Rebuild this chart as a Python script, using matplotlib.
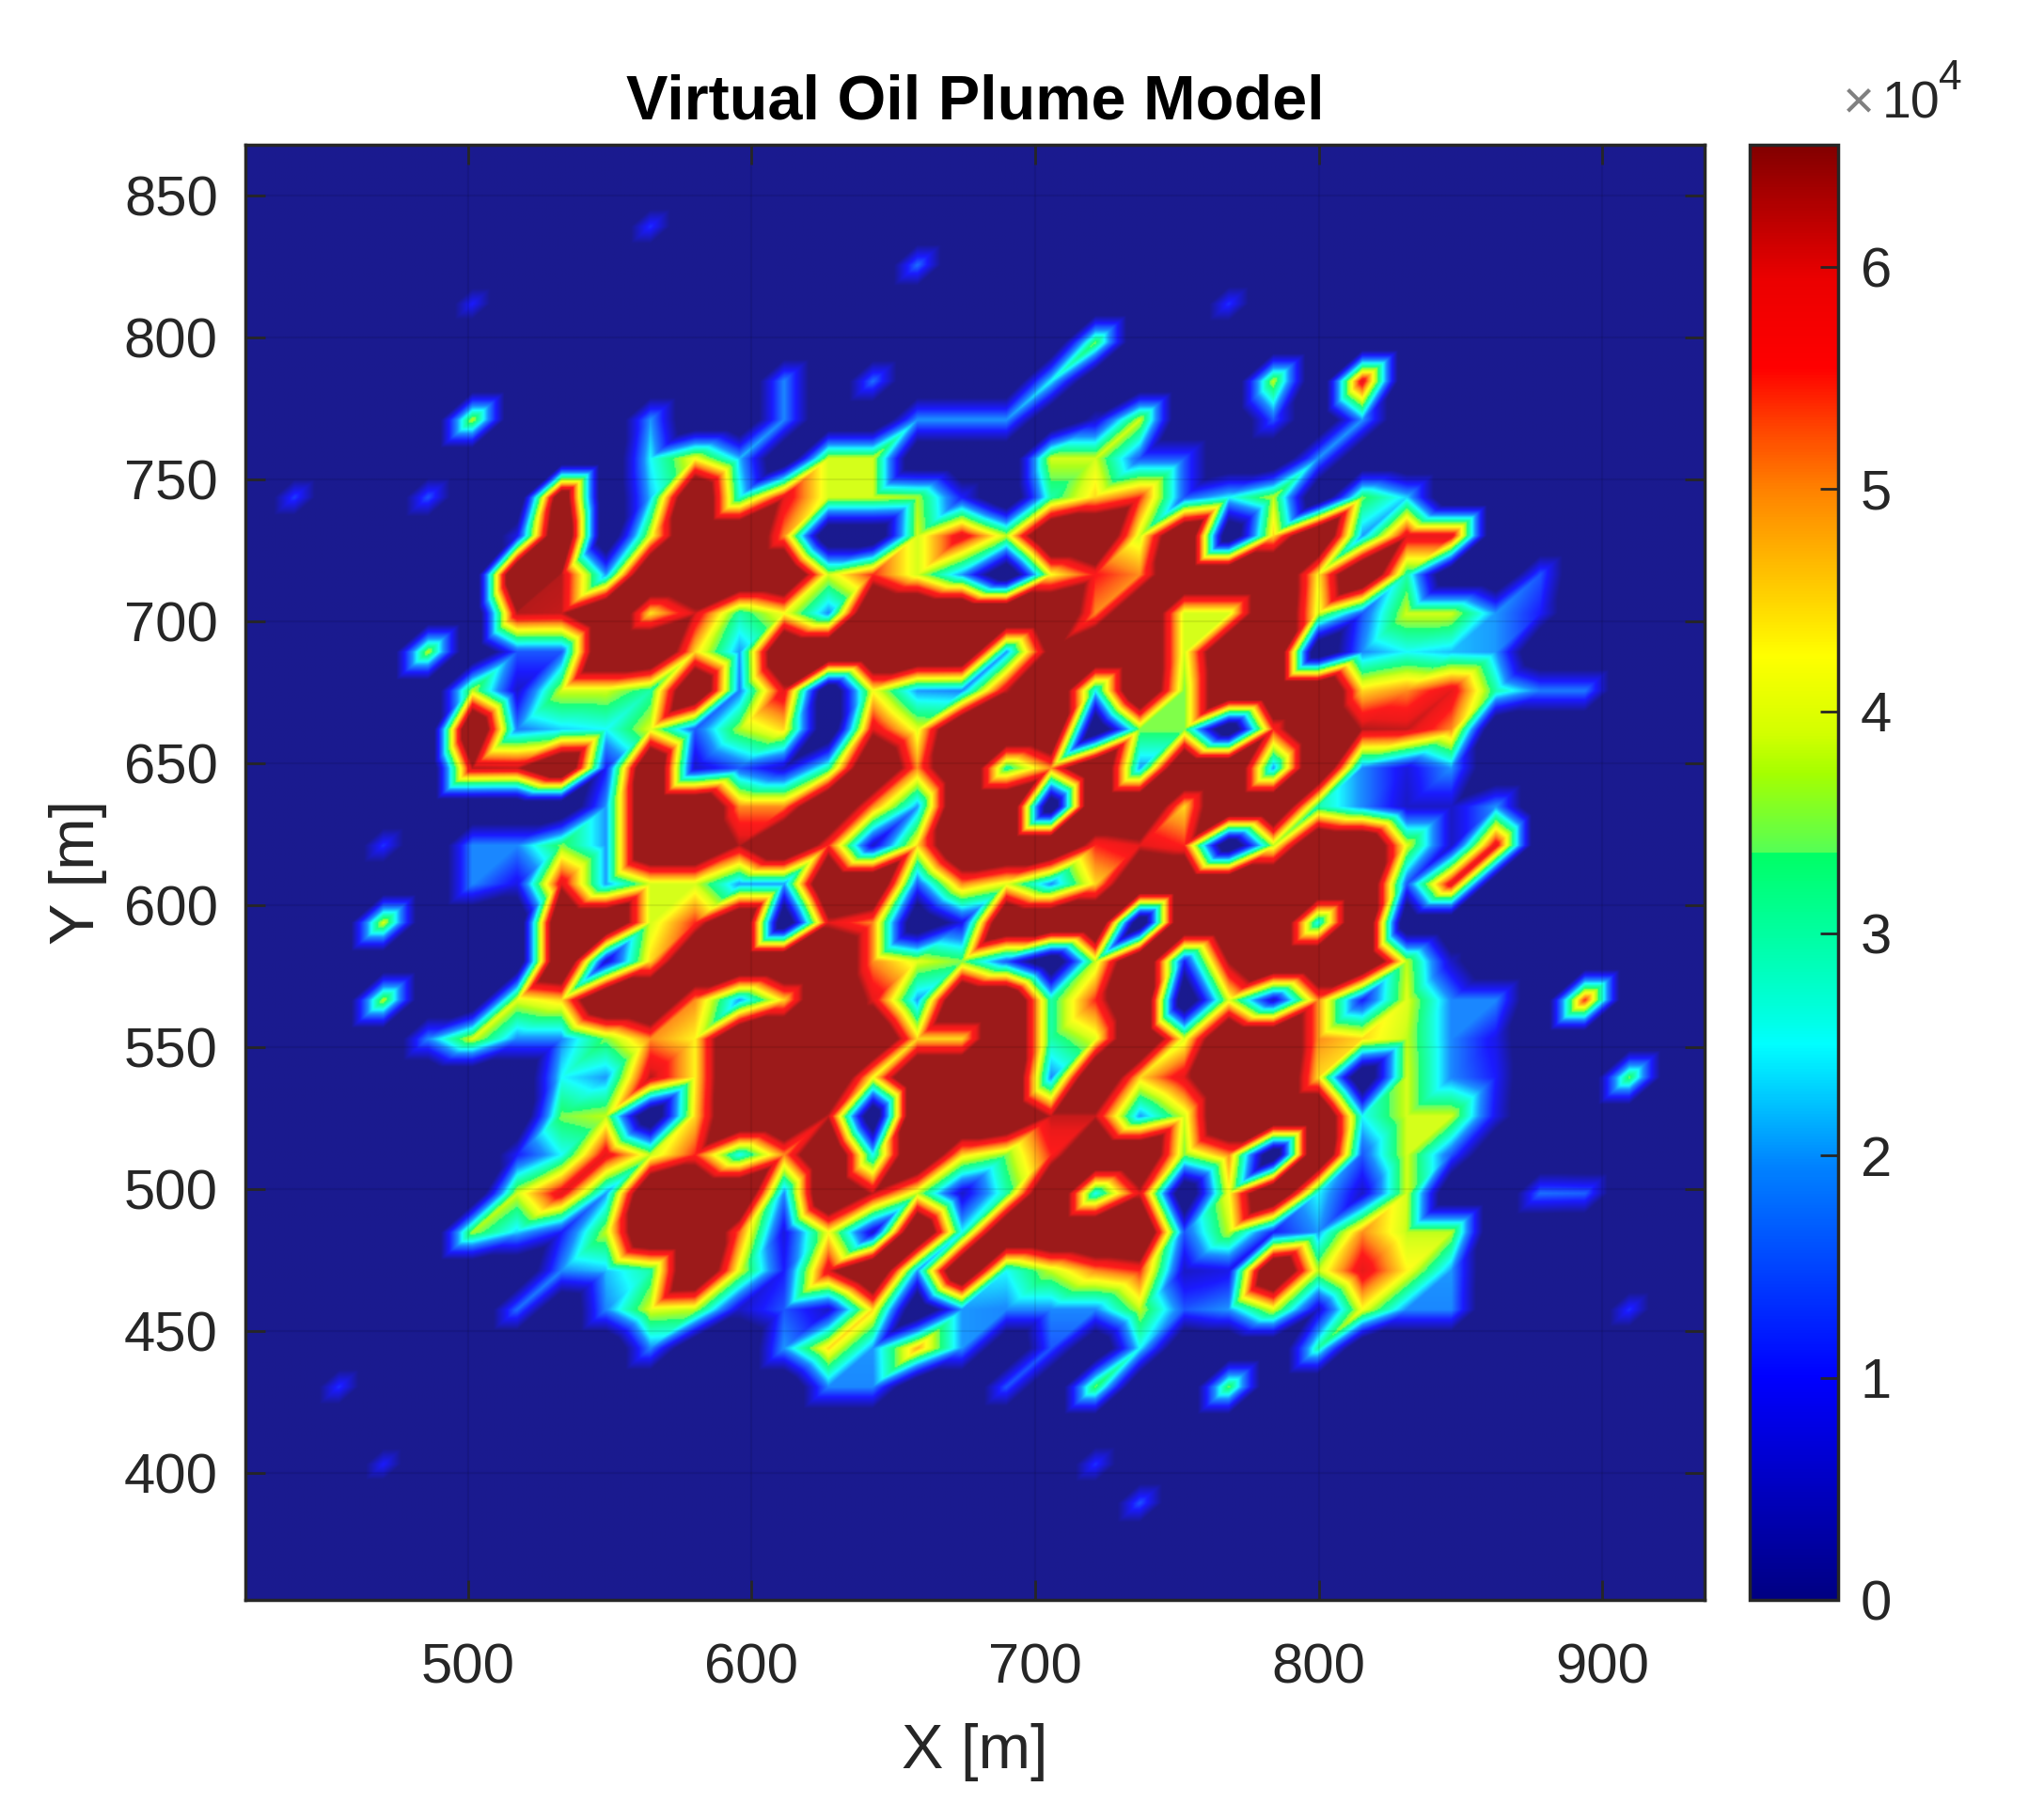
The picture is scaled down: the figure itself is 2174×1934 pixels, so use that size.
import numpy as np
import matplotlib
matplotlib.use("Agg")
import matplotlib.pyplot as plt
import matplotlib.tri as mtri
from matplotlib.colors import LinearSegmentedColormap, Normalize
from matplotlib.cm import ScalarMappable

plt.rcParams['font.family'] = ['Liberation Sans', 'DejaVu Sans']

# node values, in units of 1e4, H = saturated plateau
H = 9
z_rows = [
 [0,0,0,0, 0,0,0,0,1.2,0,0,0,0,0, 0,0,0,0,0,0,0,0,0,0, 0,0,0,0,0,0,0],
 [0,0,0,0, 0,0,0,0,0,0,0,0,0,0, 1.7,0,0,0,0,0,0,0,0,0, 0,0,0,0,0,0,0],
 [0,0,0,0, 1,0,0,0,0,0,0,0,0,0, 0,0,0,0,0,0,0,1.2,0,0, 0,0,0,0,0,0,0],
 [0,0,0,0, 0,0,0,0,0,0,0,0,0,0, 0,0,0,0,3.5,0,0,0,0,0, 0,0,0,0,0,0,0],
 [0,0,0,0, 0,0,0,0,0,0,0,1.9,0,1.7, 0,0,0,2.5,0,0,0,0,3.8,0, 6,0,0,0,0,0,0],
 [0,0,0,0, 3.8,0,0,0,2,0,0,1.9,0,0, 2,2,2,0,0.5,3.9,0,0,1.5,0, 2,0,0,0,0,0,0],
 [0,0,0,0, 0,0,0,0,2.5,4.2,2.2,0,3.9,3.9, 0,0,0,3.9,3.9,1.5,1.5,0,0,2, 0,0,0,0,0,0,0],
 [1.3,0,0,1.5, 0,0,8,0,2.2,H,2.7,6,3.9,3.9, 3.7,1,0,3,4.5,5.5,1.5,2.5,3.8,0, 3.5,2.3,0,0,0,0,0],
 [0,0,0,0, 0,0.8,H,0,4,H,H,5,0,0, 3.9,6,3.8,H,H,3.9,H,0,4.5,H, 2,6,6,0,0,0,0],
 [0,0,0,0, 0,H,6.3,2,H,H,H,H,3.9,5.5, 3.9,2,0,4.2,5.6,5,H,H,H,4.3, H,3,0,0,1.5,0,0],
 [0,0,0,0, 0,6.3,6.2,H,4.4,6.1,3,4.2,1.9,H, H,H,H,H,5,H,3.9,3.9,H,4, 1.5,3.9,3.9,2,1,0,0],
 [0,0,0,3.8, 0,1.5,1.5,H,H,4.5,2,H,H,H, H,H,2,7,H,H,3.9,H,H,0, 1.9,2.5,2.2,2,0,0,0],
 [0,0,0,0, 3.8,0.5,3.9,3.9,3,H,1.8,6,0,4.2, 2,1.9,6.2,H,2.5,H,3.5,H,H,H, 4.5,5,6,3,1.8,1.8,0],
 [0,0,0,0, H,1.8,2.3,2.5,4,1.5,3.7,4.5,0,6, 4,H,H,H,0,3.5,3.5,0,5.5,H, 6.3,6.2,5,0,0,0,0],
 [0,0,0,0, 6.3,6.2,H,1,H,0.5,1.5,0.5,3,H, 5,H,3,5,H,2,H,H,2,H, 1.9,0.7,2,0,0,0,0],
 [0,0,0,0, 0,0,0,2,H,H,5,5,H,5, 2,H,H,0,H,H,4.5,H,H,3, 1.9,0.5,0.5,2,0,0,0],
 [0,0,1.2,0, 1.9,1.9,3.5,2,H,H,6.3,H,5.5,0.5, 4.5,H,H,H,5.5,6,5.5,0,3.8,H, H,4,0.5,6,0,0,0],
 [0,0,0,0, 1.9,0.8,6,2,3.9,3.9,2,2,H,H, 1.5,5,4,1.9,4.5,H,H,H,H,H, H,1.5,6,0,0,0,0],
 [0,0,4,0, 0,0,H,H,3.9,5.5,H,0,6,5, 0,0.8,H,H,H,0,H,H,H,2.5, H,0,0,0,0,0,0],
 [0,0,0,0, 0,0,H,0.5,4.5,H,H,H,H,5, 4,3.5,1.5,0,3.8,H,1,6.5,H,H, H,3.8,0.5,0,0,0,0],
 [0,0,3.8,0, 0,4,4.5,H,H,5,2,4.5,H,6, 2,H,H,3,5.5,H,0,4,0.5,5, 1,4,1.9,1.9,0,5.5,0],
 [0,0,0,1.9, 4,1.9,1.9,3.5,5,4.3,H,H,H,H, 4.5,4.5,H,3,4,H,4,H,H,5, 4.5,3.8,1.9,0.8,0,0,0],
 [0,0,0,0, 0,0,2.5,2,6.3,4.3,H,H,H,4.2, H,H,H,1.9,H,4.5,6,H,H,4.5, 0,3.9,1.9,1,0,0,3.5],
 [0,0,0,0, 0,0,3.5,3.8,0,4.5,H,H,6.2,0, H,H,H,6.2,6.2,2,3.9,H,H,H, 2.5,3.9,3.9,0.8,0,0,0],
 [0,0,0,0, 0,1,2.5,6,3.8,5.5,2.5,5,H,2.5, H,4.5,3.5,5.5,H,H,3.5,5,0,H, 1.5,3.9,1.5,0,0,0,0],
 [0,0,0,0, 0,3.9,6,2,H,H,H,1.9,H,6.2, 3.8,0.5,3,H,2.5,6,0,4.2,H,2.5, 0.5,3.9,0,0,1.7,1.6,0],
 [0,0,0,0, 3.7,2.3,1,3.8,H,H,5.2,0.7,4.2,0.5, H,2.5,H,H,H,H,1.5,3.8,1,2, 5,3.8,3.8,0,0,0,0],
 [0,0,0,0, 0,0,1.9,2.2,3,H,4,1,6,H, 2,H,2.5,3.8,5,5.5,0.5,0.8,H,3.8, 6,4.3,2,0,0,0,0],
 [0,0,0,0, 0,1.7,0,1.9,4,3.8,0.5,1.5,0.5,4.5, 0,2,1.9,1.9,1.9,3.8,1.5,2,4,0.5, 4.2,1.9,1.9,0,0,0,1.2],
 [0,0,0,0, 0,0,0,0,1.9,0,0,2,4.5,2, 4.8,2,0,1.5,0,2.5,0,0,0,3, 0,0,0,0,0,0,0],
 [0,1.2,0,0, 0,0,0,0,0,0,0,0,1.9,1.9, 0,0,1.5,0,3.5,0,0,3.5,0,0, 0,0,0,0,0,0,0],
 [0,0,0,0, 0,0,0,0,0,0,0,0,0,0, 0,0,0,0,0,0,0,0,0,0, 0,0,0,0,0,0,0],
 [0,0,1,0, 0,0,0,0,0,0,0,0,0,0, 0,0,0,0,1.2,0,0,0,0,0, 0,0,0,0,0,0,0],
 [0,0,0,0, 0,0,0,0,0,0,0,0,0,0, 0,0,0,0,0,1.5,0,0,0,0, 0,0,0,0,0,0,0],
]

x_start, x_step = 501.5, 15.7
y_start, y_step = 716.6, -13.64
pad_cols = (2, 2)
pad_rows = (3, 3)

z_max = 6.55
plate = 6.45
background = -1.5  # nodes outside the plume sit below the colour limit, rims stay narrow

# colour stops: value, rgb
cbar_vals = [0, 1.0, 1.95, 2.5, 2.63, 3.0, 3.369, 3.371, 3.72, 3.9, 4.25, 5.0, 5.27, 5.55, 5.95, 6.55]
cbar_cols = [(0,0,130),(0,0,255),(0,130,255),(0,255,255),(0,255,225),(0,255,160),(0,255,100),
             (85,255,85),(165,255,0),(210,255,0),(255,255,0),(255,130,0),(255,70,0),(255,0,0),(235,0,0),(130,0,0)]

stops = [(v / z_max, tuple(c / 255 for c in col)) for v, col in zip(cbar_vals, cbar_cols)]
cmap = LinearSegmentedColormap.from_list('plume', stops, N=512)
norm = Normalize(0, z_max)

z = np.pad(np.array(z_rows, dtype=float), (pad_rows, pad_cols))
z[z == 0] = background
ny, nx = z.shape
x_nodes = x_start + x_step * (np.arange(nx) - 6)
y_nodes = y_start + y_step * (np.arange(ny) - 12)
X, Y = np.meshgrid(x_nodes, y_nodes)

# every quad is cut along its lower-left to upper-right diagonal
ids = np.arange(nx * ny).reshape(ny, nx)
a, b = ids[:-1, :-1].ravel(), ids[:-1, 1:].ravel()
c, d = ids[1:, :-1].ravel(), ids[1:, 1:].ravel()
tris = np.vstack([np.c_[a, b, c], np.c_[b, d, c]])
tri = mtri.Triangulation(X.ravel(), Y.ravel(), tris)
interp = mtri.LinearTriInterpolator(tri, z.ravel())

xlim = (421.6, 936)
ylim = (355.3, 867.9)
xf = np.linspace(xlim[0], xlim[1], 1000)
yf = np.linspace(ylim[0], ylim[1], 1000)
XF, YF = np.meshgrid(xf, yf)
zf = np.clip(np.ma.filled(interp(XF, YF), 0), 0, plate)

W, HT = 2174, 1934
fig = plt.figure(figsize=(W / 100, HT / 100), dpi=100)
ax = fig.add_axes([261 / W, 1 - 1702 / HT, (1813 - 261) / W, (1702 - 154) / HT])
cax = fig.add_axes([1861 / W, 1 - 1702 / HT, (1955 - 1861) / W, (1702 - 154) / HT])

ax.imshow(zf, origin='lower', extent=[*xlim, *ylim], aspect='auto', cmap=cmap, norm=norm,
          alpha=0.9, interpolation='bilinear', zorder=1)
ax.set_xlim(xlim)
ax.set_ylim(ylim)

dark = '#262626'
ax.set_xticks([500, 600, 700, 800, 900])
ax.set_yticks(np.arange(400, 851, 50))
ax.grid(True, color='k', alpha=0.08, lw=1.5, zorder=2)
ax.set_axisbelow(False)
ax.tick_params(direction='in', length=15, width=2, top=True, right=True, color=dark,
               labelcolor=dark, labelsize=43)
ax.tick_params(axis='x', pad=33)
ax.tick_params(axis='y', pad=21)
for t in ax.get_yticklabels():
    t.set_verticalalignment('center_baseline')
ax.set_xlabel('X [m]', fontsize=48, color=dark, labelpad=22)
ax.set_ylabel('Y [m]', fontsize=48, color=dark, labelpad=13)
ax.set_title('Virtual Oil Plume Model', fontsize=48, fontweight='bold', color='k', pad=20)
for s in ax.spines.values():
    s.set_linewidth(2.5)
    s.set_color(dark)

cb = fig.colorbar(ScalarMappable(norm=norm, cmap=cmap), cax=cax, ticks=range(7))
cb.ax.tick_params(direction='in', length=14, width=2, color=dark, labelcolor=dark, labelsize=43, pad=17)
for t in cb.ax.get_yticklabels():
    t.set_verticalalignment('center_baseline')
cb.outline.set_linewidth(2.5)
cb.outline.set_edgecolor(dark)

fig.text(1960 / W, 1 - 125 / HT, '\u00d7', fontsize=42, color='#808080', ha='left', va='baseline')
fig.text(2002 / W, 1 - 125 / HT, '10', fontsize=40, color=dark, ha='left', va='baseline')
fig.text(2062 / W, 1 - 95 / HT, '4', fontsize=32, color=dark, ha='left', va='baseline')

fig.savefig('out.png', dpi=100)
